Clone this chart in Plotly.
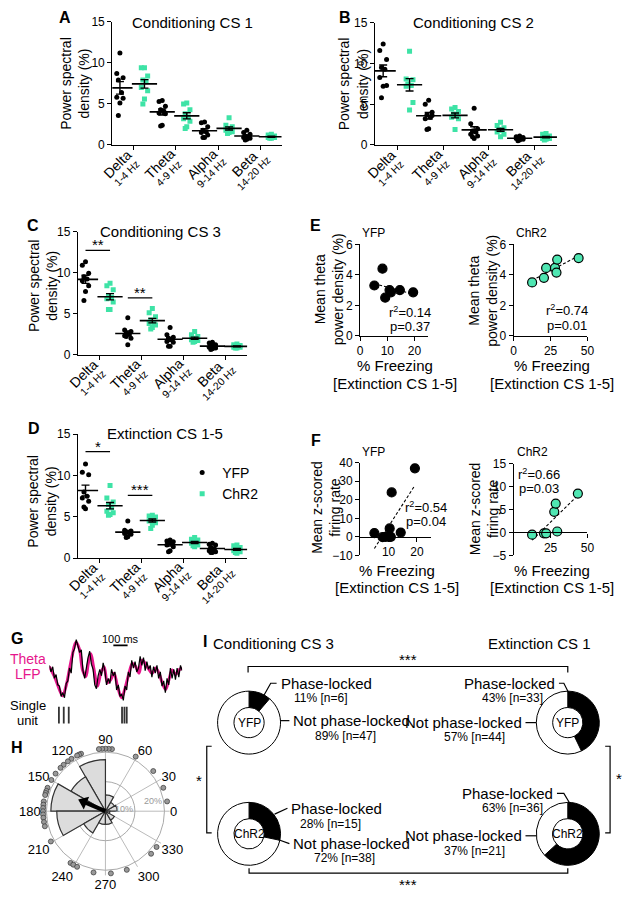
import numpy as np
import plotly.graph_objects as go

# the page body keeps an 8px margin, so the figure is drawn 16px smaller than the window
PAGE_W, PAGE_H, PAD = 630, 900, 8
W, H = PAGE_W - 2 * PAD, PAGE_H - 2 * PAD
FONT = "Liberation Sans, Arial, sans-serif"
GREEN = "#3ee3a6"
GREEN_FILL = "#4fe6b2"
MAGENTA = "#e6168c"

BANDS = ["Delta", "Theta", "Alpha", "Beta"]
BAND_HZ = ["1-4 Hz", "4-9 Hz", "9-14 Hz", "14-20 Hz"]

# power spectral density (%) per animal, one list per band (Delta, Theta, Alpha, Beta)
A_YFP = [[11.2, 8.7, 8.2, 7.9, 6.4, 5.8, 5.7, 5.1, 3.6],
         [5.4, 5.3, 4.7, 4.3, 4.1, 3.9, 3.8, 2.4, 2.3],
         [2.8, 2.7, 2.2, 1.8, 1.6, 1.5, 1.2, 0.9, 0.9],
         [1.8, 1.5, 1.3, 1.1, 1.0, 0.9, 0.8, 0.7, 0.6]]
A_CHR2 = [[9.4, 9.4, 8.4, 7.9, 7.7, 7.0, 6.6, 5.6, 5.0],
          [5.1, 5.0, 4.3, 3.8, 3.4, 3.2, 2.9, 2.2, 2.0],
          [3.3, 2.4, 2.2, 2.0, 1.9, 1.8, 1.6, 1.5, 1.4],
          [1.3, 1.2, 1.1, 1.0, 1.0, 0.9, 0.9, 0.8, 0.8]]
B_YFP = [[12.4, 11.6, 10.5, 9.5, 9.3, 8.3, 7.3, 7.2, 5.8],
         [5.5, 5.0, 4.0, 3.7, 3.4, 3.2, 3.6, 2.0, 1.9],
         [4.5, 2.6, 2.0, 1.7, 1.6, 1.3, 1.1, 0.8, 1.0],
         [1.1, 1.0, 0.9, 0.9, 0.8, 0.8, 0.7, 0.6, 0.5]]
B_CHR2 = [[11.5, 8.1, 8.0, 7.5, 7.3, 7.2, 5.2, 4.3],
          [4.6, 4.4, 4.1, 3.8, 3.6, 3.4, 3.2, 1.9],
          [2.8, 2.4, 2.1, 1.9, 1.8, 1.6, 1.3, 1.0, 1.8],
          [1.4, 1.3, 1.1, 1.0, 0.9, 0.8, 0.8, 0.7, 0.6]]
C_YFP = [[11.3, 10.9, 9.9, 9.5, 9.2, 9.0, 8.4, 7.7, 6.6],
         [4.5, 3.0, 2.8, 2.6, 2.5, 2.3, 2.0, 1.2, 2.2],
         [3.3, 2.4, 2.1, 2.0, 1.8, 1.6, 1.5, 1.0, 1.0],
         [1.5, 1.4, 1.2, 1.1, 1.0, 0.9, 0.8, 0.7, 0.6]]
C_CHR2 = [[8.7, 8.4, 7.9, 7.2, 7.0, 6.8, 6.4, 5.5, 5.5],
          [5.6, 5.1, 4.6, 4.2, 3.9, 3.8, 3.6, 3.3, 3.1],
          [2.8, 2.4, 2.2, 2.0, 1.9, 1.8, 1.7, 1.6, 1.5],
          [1.3, 1.2, 1.1, 1.0, 1.0, 0.9, 0.9, 0.8, 0.8]]
D_YFP = [[11.4, 10.4, 10.1, 8.0, 7.5, 7.3, 6.9, 6.0, 6.2],
         [4.5, 3.4, 3.3, 3.2, 3.1, 3.0, 2.9, 2.6, 2.5],
         [2.2, 2.1, 2.0, 1.9, 1.8, 1.6, 1.4, 0.9, 0.8],
         [1.8, 1.7, 1.6, 1.3, 1.1, 0.9, 0.8, 0.7, 0.7]]
D_CHR2 = [[8.8, 7.3, 6.8, 6.5, 6.1, 5.7, 5.5, 5.3, 5.2],
          [5.2, 5.1, 5.0, 4.8, 4.6, 4.5, 4.3, 4.0, 3.6],
          [2.5, 2.3, 2.2, 2.0, 1.9, 1.8, 1.6, 1.4, 1.5],
          [1.6, 1.5, 1.3, 1.2, 1.0, 0.9, 0.8, 0.6, 0.7]]

# significance bars: (band index, stars, height)
SIG_C = [(0, "**", 12.7), (1, "**", 6.9)]
SIG_D = [(0, "*", 12.9), (1, "***", 7.6)]

# E: freezing (%) vs mean theta power (%)
E_YFP_FREEZE = [5.2, 8.2, 9.2, 10.8, 11.3, 14.6, 19.5]
E_YFP_THETA = [3.3, 4.4, 2.5, 3.0, 2.85, 3.0, 2.85]
E_CHR2_FREEZE = [12.5, 20.5, 22.0, 28.0, 29.0, 29.5, 44.0]
E_CHR2_THETA = [3.5, 3.8, 4.45, 4.45, 4.15, 5.0, 5.1]
# F: freezing (%) vs mean z-scored firing rate
F_YFP_FREEZE = [5.0, 7.9, 9.0, 10.2, 10.4, 10.8, 11.1, 14.3, 19.3]
F_YFP_RATE = [2.0, -0.2, 0.0, 0.0, 4.5, 0.0, 24.0, 2.3, 37.0]
F_CHR2_FREEZE = [12.5, 20.5, 22.0, 27.5, 28.5, 29.5, 43.5]
F_CHR2_RATE = [-0.5, -0.2, -0.2, 4.5, 6.3, 0.2, 8.5]
STATS = {"E_YFP": ("0.14", "0.37"), "E_CHR2": ("0.74", "0.01"),
         "F_YFP": ("0.54", "0.04"), "F_CHR2": ("0.66", "0.03")}

# G: example LFP trace (raw and theta filtered) and spikes
G_LFP_MV = [0.6, 0.1, 0.5, -0.4, -0.1, -0.9, -1.0, -1.8, -1.5, -1.9,
            -0.8, -0.6, 0.4, 0.0, 1.6, 1.9, 2.6, 2.0, 1.6, 1.8,
            0.2, -0.4, 0.6, 1.2, 1.7, 0.7, 0.3, -0.9, -1.2, -0.2,
            0.3, -0.2, 0.8, 0.2, -0.9, -0.4, -0.8, 0.3, -0.2, 0.1,
            -1.3, -0.9, -1.8, -1.6, -2.1, -1.0, -1.3, 0.1, -0.3, 1.0,
            0.4, 0.9, 0.1, 0.4, 1.3, 0.6, 1.2, 0.2, 0.9, 0.3,
            0.6, -0.3, 0.5, 0.0, 0.6, -0.4, 0.1, -1.0, -0.6, -1.5,
            -0.4, -0.9, 0.4, -0.4, 0.3, -0.5, 0.4, -0.3, 0.6, 0.2]
G_THETA_MS = [0, 35, 70, 93, 117, 140, 163, 186, 210, 233, 256, 273, 291, 310, 338,
              361, 384, 408, 431, 454, 478, 506, 529, 559, 583, 606, 629, 652, 687,
              722, 746, 769, 792, 816, 839, 862, 886, 909, 932]
G_THETA_MV = [0.5, -0.25, -1.25, -1.75, -1.0, 0.25, 1.5, 2.4, 1.9, 0.25, -0.25, 0.75,
              1.5, 0.5, -1.0, 0.0, 0.5, -0.75, -0.5, 0.0, -1.0, -1.9, -1.25, 0.0, 0.75,
              0.5, 0.0, 1.0, 0.5, 0.0, 0.4, 0.0, -0.75, -1.25, -0.5, 0.25, -0.1, 0.25, 0.4]
G_SPIKE_MS = [67, 101, 136, 510, 527, 543]
G_DURATION_MS = 932

# H: phase histogram (% of spikes per 30 deg bin), per-cell preferred phases, mean vector
H_BIN_DEG = [15, 45, 75, 105, 135, 165, 195, 225, 255, 285, 315, 345]
H_BIN_PCT = [8, 7, 11, 35, 27, 37, 33, 17, 9, 9, 7, 3]
H_CELL_DEG = [84, 87, 90, 93, 96, 113, 115, 117, 123, 127, 132, 136, 143, 150, 158,
              161, 163, 165, 171, 174, 177, 180, 183, 186, 190, 194, 209, 236, 239,
              243, 259, 275, 290, 317, 325, 9, 22, 40, 61]
H_MEAN_DEG = 157
H_MEAN_LEN = 20

# I: phase-locked unit counts
I_GROUPS = ["YFP", "YFP", "ChR2", "ChR2"]
I_SESSIONS = ["Conditioning CS 3", "Extinction CS 1", "Conditioning CS 3", "Extinction CS 1"]
I_LOCKED = [6, 33, 15, 36]
I_NOT_LOCKED = [47, 44, 38, 21]


# positions below are given in window pixels; convert to paper fractions of the figure
def fx(x):
    return (x - PAD) / W


def fy(y):
    return 1 - (y - PAD) / H


def xdom(a, b):
    return [fx(a), fx(b)]


def ydom(top, bottom):
    return [fy(bottom), fy(top)]


ann = []
shapes = []


def text(x, y, s, size=13, xanchor="center", angle=0, color="black"):
    ann.append(dict(x=fx(x), y=fy(y), xref="paper", yref="paper", text=s,
                    showarrow=False, xanchor=xanchor, yanchor="middle", textangle=angle,
                    font=dict(size=size, color=color, family=FONT)))


def seg(pts, width=1.2, color="black"):
    path = "M " + " L ".join(f"{fx(x)},{fy(y)}" for x, y in pts)
    shapes.append(dict(type="path", path=path, xref="paper", yref="paper",
                       line=dict(color=color, width=width)))


fig = go.Figure()
layout = {}
line_axis = dict(showline=True, linecolor="black", linewidth=1.3, ticks="outside",
                 ticklen=4, tickwidth=1.3, tickcolor="black", showgrid=False,
                 zeroline=False, tickfont=dict(size=12, color="black", family=FONT))

"""
Dot plots A-D
"""
OFFSET = {"YFP": -0.32, "ChR2": 0.26}
JIT = [0, -1, 1, -0.5, 0.5, -1, 1, 0, -0.5, 0.5]

dot_panels = [
    ("", (111, 283), (15, 140), A_YFP, A_CHR2, []),
    ("2", (378, 563), (16, 140), B_YFP, B_CHR2, []),
    ("3", (76, 248), (228, 353), C_YFP, C_CHR2, SIG_C),
    ("4", (76, 248), (434, 560), D_YFP, D_CHR2, SIG_D),
]
for k, xpx, ypx, yfp, chr2, sig in dot_panels:
    xref, yref = "x" + k, "y" + k
    for name, data, sym, col in [("YFP", yfp, "circle", "black"), ("ChR2", chr2, "square", GREEN)]:
        xs, ys = [], []
        for i, vals in enumerate(data):
            for j, v in enumerate(vals):
                xs.append(i + OFFSET[name] + 0.075 * JIT[j % len(JIT)])
                ys.append(v)
        fig.add_trace(go.Scatter(x=xs, y=ys, mode="markers", xaxis=xref, yaxis=yref,
                                 name=name, showlegend=(k == "4"),
                                 marker=dict(symbol=sym, size=5, color=col)))
        means = [np.mean(v) for v in data]
        sems = [np.std(v, ddof=1) / np.sqrt(len(v)) for v in data]
        fig.add_trace(go.Scatter(x=[i + OFFSET[name] for i in range(len(data))], y=means,
                                 mode="markers", xaxis=xref, yaxis=yref, showlegend=False,
                                 marker=dict(symbol="line-ew-open", size=18, color="black",
                                             line=dict(color="black", width=1.6)),
                                 error_y=dict(type="data", array=sems, width=4,
                                              thickness=1.4, color="black")))
    for i, stars, h in sig:
        shapes.append(dict(type="line", xref=xref, yref=yref, x0=i + OFFSET["YFP"],
                           x1=i + OFFSET["ChR2"], y0=h, y1=h,
                           line=dict(color="black", width=1.3)))
        ann.append(dict(x=i + (OFFSET["YFP"] + OFFSET["ChR2"]) / 2, y=h, xref=xref, yref=yref,
                        text=stars, showarrow=False, yanchor="bottom", yshift=-5,
                        font=dict(size=15, color="black", family=FONT)))
    yd = ydom(*ypx)
    # slanted two-line band labels under each tick
    for i, (b, hz) in enumerate(zip(BANDS, BAND_HZ)):
        ann.append(dict(x=i, y=yd[0], xref=xref, yref="paper", text=b, showarrow=False,
                        xanchor="center", yanchor="middle",
                        xshift=-16, yshift=-19, textangle=-45,
                        font=dict(size=14, color="black", family=FONT)))
        ann.append(dict(x=i, y=yd[0], xref=xref, yref="paper", text=hz, showarrow=False,
                        xanchor="center", yanchor="middle",
                        xshift=-7, yshift=-28, textangle=-45,
                        font=dict(size=10.5, color="black", family=FONT)))
    layout["xaxis" + k] = dict(line_axis, domain=xdom(*xpx), range=[-0.5, 3.5],
                               tickvals=[0, 1, 2, 3], showticklabels=False, anchor=yref)
    layout["yaxis" + k] = dict(line_axis, domain=yd, range=[0, 15],
                               tickvals=[0, 5, 10, 15], anchor=xref)

text(193, 16, "Conditioning CS 1", 15)
text(478, 16, "Conditioning CS 2", 15)
text(160, 228, "Conditioning CS 3", 15)
text(165, 433, "Extinction CS 1-5", 15)
for x, y in [(73, 77), (356, 78), (40, 283), (40, 502)]:
    text(x, y, "Power spectral<br>density (%)", 14, angle=-90)

"""
Scatter plots E-F
"""
scatter_panels = [
    ("5", (363, 432), (241, 334), [0, 25], [0, 6], [0, 10, 20], [0, 2, 4, 6],
     E_YFP_FREEZE, E_YFP_THETA, "black", False),
    ("6", (519, 594), (241, 334), [0, 50], [0, 6], [0, 25, 50], [0, 2, 4, 6],
     E_CHR2_FREEZE, E_CHR2_THETA, GREEN_FILL, False),
    ("7", (363, 435), (463, 557), [0, 25], [-10, 40], [10, 20], [-10, 0, 10, 20, 30, 40],
     F_YFP_FREEZE, F_YFP_RATE, "black", True),
    ("8", (519, 594), (464, 557), [0, 50], [-5, 15], [25, 50], [-5, 0, 5, 10, 15],
     F_CHR2_FREEZE, F_CHR2_RATE, GREEN_FILL, True),
]
for k, xpx, ypx, xr, yr, xt, yt, fxs, fys, fill, zero_axis in scatter_panels:
    xref, yref = "x" + k, "y" + k
    slope, icpt = np.polyfit(fxs, fys, 1)
    lx = [min(fxs), max(fxs)]
    fig.add_trace(go.Scatter(x=lx, y=[slope * v + icpt for v in lx], mode="lines",
                             xaxis=xref, yaxis=yref, showlegend=False,
                             line=dict(color="black", width=1.1, dash="3px,2px")))
    fig.add_trace(go.Scatter(x=fxs, y=fys, mode="markers", xaxis=xref, yaxis=yref,
                             showlegend=False, cliponaxis=False,
                             marker=dict(size=9, color=fill, line=dict(color="black", width=1.2))))
    yd = ydom(*ypx)
    xa = dict(line_axis, domain=xdom(*xpx), range=xr, tickvals=xt, anchor=yref)
    if zero_axis:
        xa.update(anchor="free", position=yd[0] + (0 - yr[0]) / (yr[1] - yr[0]) * (yd[1] - yd[0]))
    layout["xaxis" + k] = xa
    layout["yaxis" + k] = dict(line_axis, domain=yd, range=yr, tickvals=yt, anchor=xref)

text(377, 229, "YFP", 12)
text(537, 229, "ChR2", 12)
text(377, 452, "YFP", 12)
text(538, 452, "ChR2", 12)
for key, x, y in [("E_YFP", 414, 310), ("E_CHR2", 573, 308), ("F_YFP", 430, 508), ("F_CHR2", 545, 474)]:
    r2, p = STATS[key]
    text(x, y, f"r<sup>2</sup>={r2}", 13)
    text(x, y + 15, f"p={p}", 13)
for cx, y in [(398, 364), (558, 364), (400, 572), (558, 572)]:
    text(cx, y, "% Freezing", 15)
    text(cx, y + 18, "[Extinction CS 1-5]", 15)
text(331, 287, "Mean theta<br>power density (%)", 14, angle=-90)
text(487, 288, "Mean theta<br>power density (%)", 14, angle=-90)
text(328, 508, "Mean z-scored<br>firing rate", 14, angle=-90)
text(489, 510, "Mean z-scored<br>firing rate", 14, angle=-90)

"""
G: LFP example
"""
g_t = np.linspace(0, G_DURATION_MS, len(G_LFP_MV))
fig.add_trace(go.Scatter(x=G_THETA_MS, y=G_THETA_MV, mode="lines", xaxis="x9", yaxis="y9",
                         showlegend=False, line=dict(color=MAGENTA, width=3, shape="spline")))
fig.add_trace(go.Scatter(x=g_t, y=G_LFP_MV, mode="lines", xaxis="x9", yaxis="y9",
                         showlegend=False, line=dict(color="black", width=1.2)))
fig.add_trace(go.Scatter(x=G_SPIKE_MS, y=[-3.35] * len(G_SPIKE_MS), mode="markers",
                         xaxis="x9", yaxis="y9", showlegend=False,
                         marker=dict(symbol="line-ns", size=14,
                                     line=dict(color="#333333", width=1.8))))
layout["xaxis9"] = dict(domain=xdom(47, 182), range=[0, G_DURATION_MS], visible=False, anchor="y9")
layout["yaxis9"] = dict(domain=ydom(640, 728), range=[-3.9, 2.8], visible=False, anchor="x9")
shapes.append(dict(type="line", xref="x9", yref="y9", x0=449, x1=549, y0=2.15, y1=2.15,
                   line=dict(color="black", width=1.6)))
text(119, 642, "100 ms", 11)
text(25, 662, "Theta", 14, color=MAGENTA)
text(25, 678, "LFP", 14, color=MAGENTA)
text(25, 710, "Single", 13)
text(25, 725, "unit", 13)

"""
H: polar phase histogram
"""
R_MAX = 43.5
H_CX, H_CY = 104, 817
fig.add_trace(go.Barpolar(r=H_BIN_PCT, theta=H_BIN_DEG, width=[30] * len(H_BIN_DEG),
                          showlegend=False,
                          marker=dict(color="#dcdcdc", line=dict(color="#333333", width=1.2))))
fig.add_trace(go.Scatterpolar(r=[42.3] * len(H_CELL_DEG), theta=H_CELL_DEG, mode="markers",
                              showlegend=False,
                              marker=dict(size=5, color="#999999",
                                          line=dict(color="#444444", width=0.8))))
fig.add_trace(go.Scatterpolar(r=[0, H_MEAN_LEN * 0.8], theta=[H_MEAN_DEG, H_MEAN_DEG],
                              mode="lines", showlegend=False,
                              line=dict(color="black", width=4)))
fig.add_trace(go.Scatterpolar(r=[H_MEAN_LEN * 0.8], theta=[H_MEAN_DEG], mode="markers",
                              showlegend=False,
                              marker=dict(symbol="triangle-up", size=12, color="black",
                                          angle=90 - H_MEAN_DEG)))
rad = 60 * R_MAX / 40
layout["polar"] = dict(
    domain=dict(x=xdom(H_CX - rad, H_CX + rad), y=ydom(H_CY - rad, H_CY + rad)),
    bgcolor="white",
    angularaxis=dict(tickvals=list(range(0, 360, 30)), ticks="", showline=False,
                     gridcolor="#bbbbbb",
                     tickfont=dict(size=13, color="black", family=FONT)),
    radialaxis=dict(range=[0, R_MAX], tickvals=[20, 40], showticklabels=False, ticks="",
                    showline=False, gridcolor="#aaaaaa"),
)
text(152, 807, "20%", 9, color="#999999")
text(123, 815, "10%", 9, color="#999999")

"""
I: phase-locked proportions
"""
pie_centres = [(250, 727), (574, 727), (250, 840), (574, 840)]
for (cx, cy), g, pl, npl in zip(pie_centres, I_GROUPS, I_LOCKED, I_NOT_LOCKED):
    fig.add_trace(go.Pie(values=[pl, npl], labels=["Phase-locked", "Not phase-locked"],
                         sort=False, direction="clockwise", hole=0.48, textinfo="none",
                         showlegend=False,
                         marker=dict(colors=["black", "white"], line=dict(color="black", width=1)),
                         domain=dict(x=xdom(cx - 32, cx + 32), y=ydom(cy - 32, cy + 32))))
    text(cx, cy, g, 12)

pct = [round(100 * a / (a + b)) for a, b in zip(I_LOCKED, I_NOT_LOCKED)]
# (x, y, anchor) for the "Phase-locked" line, its numbers, "Not phase-locked" line, its numbers
label_pos = [
    ((280, 687, "left"), (323, 702), (293, 725, "left"), (348, 741)),
    ((563, 687, "right"), (518, 702), (529, 727, "right"), (479, 742)),
    ((291, 814, "left"), (333, 830), (293, 850, "left"), (347, 865)),
    ((561, 799, "right"), (518, 814), (529, 842, "right"), (479, 857)),
]
for (pl_t, pl_n, np_t, np_n), a, b, p in zip(label_pos, I_LOCKED, I_NOT_LOCKED, pct):
    text(pl_t[0], pl_t[1], "Phase-locked", 15, xanchor=pl_t[2])
    text(pl_n[0], pl_n[1], f"{p}% [n={a}]", 12)
    text(np_t[0], np_t[1], "Not phase-locked", 15, xanchor=np_t[2])
    text(np_n[0], np_n[1], f"{100 - p}% [n={b}]", 12)

seg([(263, 703), (272, 687), (278, 687)])
seg([(282, 725), (291, 725)])
seg([(565, 687), (570, 687), (575, 697)])
seg([(531, 727), (542, 727)])
seg([(276, 820), (289, 814)])
seg([(280, 846), (291, 850)])
seg([(563, 799), (570, 799), (576, 809)])
seg([(531, 842), (542, 842)])
# brackets
seg([(249, 676), (249, 670), (574, 670), (574, 676)])
seg([(250, 875), (250, 880), (574, 880), (574, 875)])
seg([(212, 751), (207, 751), (207, 839), (212, 839)])
seg([(612, 751), (617, 751), (617, 839), (612, 839)])
text(412, 663, "***", 15)
text(412, 891, "***", 15)
text(199, 786, "*", 15)
text(626, 784, "*", 15)
text(275, 647, "Conditioning CS 3", 15)
text(545, 647, "Extinction CS 1", 15)

# panel letters
for letter, x, y in [("A", 63, 11), ("B", 348, 11), ("C", 30, 222), ("D", 31, 428),
                     ("E", 318, 222), ("F", 318, 440), ("G", 14, 642), ("H", 14, 752),
                     ("I", 205, 645)]:
    ann.append(dict(x=fx(x), y=fy(y), xref="paper", yref="paper", text=f"<b>{letter}</b>",
                    showarrow=False, xanchor="center", yanchor="middle",
                    font=dict(size=16, color="black", family=FONT)))

fig.update_layout(
    width=W, height=H, margin=dict(l=0, r=0, t=0, b=0),
    paper_bgcolor="white", plot_bgcolor="white",
    font=dict(family=FONT, color="black"),
    legend=dict(x=fx(182), y=fy(457), xanchor="left", yanchor="top",
                font=dict(size=14), bgcolor="rgba(0,0,0,0)", tracegroupgap=0),
    annotations=ann, shapes=shapes, **layout,
)

fig.write_html("out.html")
